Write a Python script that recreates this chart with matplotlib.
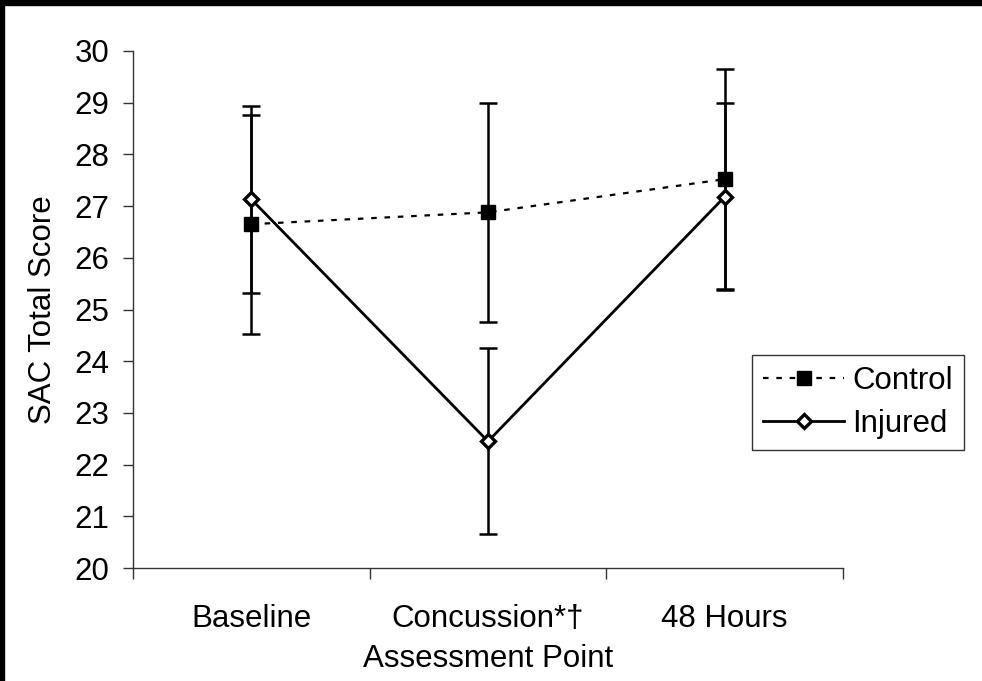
import matplotlib
matplotlib.use("Agg")
import matplotlib.pyplot as plt
import numpy as np
from matplotlib.patches import Rectangle

plt.rcParams['font.family'] = ['Liberation Sans', 'DejaVu Sans']

categories = ["Baseline", "Concussion*\u2020", "48 Hours"]
control_mean = [26.65, 26.88, 27.52]
control_err = [2.12, 2.12, 2.13]
injured_mean = [27.13, 22.45, 27.18]
injured_err = [1.81, 1.80, 1.81]
yticks = list(range(20, 31))

W, H = 982, 681
FS = 22.5
fig = plt.figure(figsize=(W / 100, H / 100), dpi=100)
ax = fig.add_axes([133 / W, 1 - 568 / H, (843 - 133) / W, (568 - 51) / H])

x = np.arange(len(categories))

capsize = 6.2
ax.errorbar(x, control_mean, yerr=control_err, fmt='none', ecolor='black',
            elinewidth=1.8, capsize=capsize, capthick=1.8, zorder=2)
ax.errorbar(x, injured_mean, yerr=injured_err, fmt='none', ecolor='black',
            elinewidth=1.8, capsize=capsize, capthick=1.8, zorder=2)

ax.plot(x, control_mean, color='black', linestyle=(0, (2.5, 3.5)), linewidth=1.6,
        marker='s', markersize=9.5, markerfacecolor='black', markeredgecolor='black',
        label='Control', zorder=3)
ax.plot(x, injured_mean, color='black', linestyle='-', linewidth=2.0,
        marker='D', markersize=7, markerfacecolor='white', markeredgecolor='black',
        markeredgewidth=2.4, label='Injured', zorder=4)

ax.set_xlim(-0.5, len(categories) - 0.5)
ax.set_ylim(20, 30)
ax.set_yticks(yticks)
ax.set_xticks(x)
ax.set_xticklabels(categories)
ax.set_xticks(np.arange(-0.5, len(categories), 1.0), minor=True)
ax.tick_params(axis='x', which='major', length=0, pad=26, labelsize=FS)
ax.tick_params(axis='x', which='minor', length=8, width=1, color='#333333', direction='out')
ax.tick_params(axis='y', length=7, width=1, color='#333333', pad=10, labelsize=FS)

for s in ['top', 'right']:
    ax.spines[s].set_visible(False)
for s in ['left', 'bottom']:
    ax.spines[s].set_linewidth(1.0)
    ax.spines[s].set_color('#333333')

ax.set_ylabel('SAC Total Score', fontsize=FS, labelpad=12)
ax.set_xlabel('Assessment Point', fontsize=FS, labelpad=7)

leg = fig.legend(loc='upper left', bbox_to_anchor=(752 / W, 1 - 355 / H),
                 fontsize=FS, frameon=True, fancybox=False, edgecolor='black',
                 borderaxespad=0, handlelength=2.6, handletextpad=0.25,
                 borderpad=0.35, labelspacing=0.42)
leg.get_frame().set_linewidth(1.0)

# black frame strips of the scanned image
fig.patches.append(Rectangle((0, 1 - 5 / H), 1, 5 / H, transform=fig.transFigure,
                             color='black', zorder=10))
fig.patches.append(Rectangle((0, 0), 4 / W, 1, transform=fig.transFigure,
                             color='black', zorder=10))

fig.savefig('out.png', dpi=100)
